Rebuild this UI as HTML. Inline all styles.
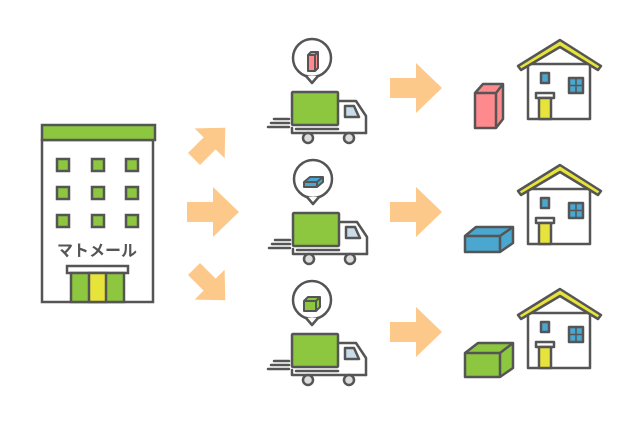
<!DOCTYPE html>
<html><head><meta charset="utf-8"><style>body{margin:0;background:#fff}svg{display:block}</style></head><body>
<svg width="640" height="428" viewBox="0 0 640 428" xmlns="http://www.w3.org/2000/svg">
<defs>
<g id="truck" stroke="#555" stroke-width="2.5" stroke-linejoin="round" stroke-linecap="round">
<circle cx="312" cy="58" r="19" fill="#fff"/>
<path d="M306 76 L312 83 L318 76" fill="#fff"/>
<path d="M338 101 H356 L366 116 V133" fill="#fff"/>
<rect x="292" y="92" width="46" height="33" fill="#8dc63f" rx="1"/>
<path d="M345 106 H354 L359 117 H345 Z" fill="#c9dce8"/>
<path d="M292 128 V133 H366" fill="none"/>
<path d="M296 129 H338" fill="none"/>
<line x1="274" y1="119" x2="289" y2="119"/><line x1="271" y1="123" x2="289" y2="123"/><line x1="268" y1="127" x2="289" y2="127"/>
<circle cx="308" cy="138" r="5" fill="#ddd"/><circle cx="349" cy="138" r="5" fill="#ddd"/>
</g>
<g id="house" stroke="#555" stroke-width="2.5" stroke-linejoin="round">
<rect x="528" y="64" width="62" height="55" fill="#fff"/>
<path d="M518 66 L560 40 L601 66 L598 70 L560 47 L521 70 Z" fill="#e6e43a"/>
<rect x="541" y="73" width="8" height="10" fill="#4aa7cf"/>
<rect x="569" y="78" width="14" height="15" fill="#4aa7cf"/>
<path d="M576 78 V93 M569 85.5 H583" stroke-width="1.5"/>
<rect x="536" y="93" width="18" height="5" fill="#fff"/>
<rect x="539" y="98" width="12" height="21" fill="#e6e43a"/>
</g>
<path id="ar" d="M0 -10 H26 V-25 L52 0 L26 25 V10 H0 Z" fill="#fdc98a"/>
</defs>
<!-- building -->
<g stroke="#555" stroke-width="2.5">
<rect x="42" y="140" width="111" height="162" fill="#fff"/>
<rect x="42" y="125" width="113" height="15" fill="#8dc63f"/>
<g fill="#8dc63f">
<rect x="57" y="159" width="12" height="12"/><rect x="92" y="159" width="12" height="12"/><rect x="126" y="159" width="12" height="12"/>
<rect x="57" y="187" width="12" height="12"/><rect x="92" y="187" width="12" height="12"/><rect x="126" y="187" width="12" height="12"/>
<rect x="57" y="215" width="12" height="12"/><rect x="92" y="215" width="12" height="12"/><rect x="126" y="215" width="12" height="12"/>
</g>
<rect x="67" y="266" width="61" height="7" fill="#fff"/>
<rect x="71" y="273" width="53" height="29" fill="#8dc63f"/>
<rect x="89" y="273" width="17" height="29" fill="#e6e43a"/>
</g>
<text x="97" y="256" text-anchor="middle" font-family="Liberation Sans, 'Noto Sans CJK JP', sans-serif" font-weight="bold" font-size="16" fill="#555">マトメール</text>
<!-- left arrows -->
<use href="#ar" transform="translate(187,212)"/>
<use href="#ar" transform="translate(194,159) rotate(-45) scale(0.85)"/>
<use href="#ar" transform="translate(194,269) rotate(45) scale(0.85)"/>
<!-- right arrows -->
<use href="#ar" transform="translate(390,88)"/>
<use href="#ar" transform="translate(390,212)"/>
<use href="#ar" transform="translate(390,332)"/>
<!-- trucks -->
<use href="#truck"/>
<use href="#truck" transform="translate(1,121)"/>
<use href="#truck" transform="translate(0,242)"/>
<!-- bubble contents -->
<g stroke="#555" stroke-width="2" stroke-linejoin="round">
<path d="M308 55 L311 52 H318 V68 L315 71 H308 Z" fill="#ff8a8e"/><path d="M308 55 H315 L318 52 M315 55 V71" fill="none"/>
<path d="M304 182 L310 177 H323 V182 L317 187 H304 Z" fill="#4aa7cf"/><path d="M304 182 H317 L323 177 M317 182 V187" fill="none"/>
<path d="M304 301 L308 297 H320 V307 L316 311 H304 Z" fill="#8dc63f"/><path d="M304 301 H316 L320 297 M316 301 V311" fill="none"/>
</g>
<!-- houses -->
<use href="#house"/>
<use href="#house" transform="translate(0,125)"/>
<use href="#house" transform="translate(0,249)"/>
<!-- boxes -->
<g stroke="#555" stroke-width="2.5" stroke-linejoin="round">
<path d="M475 93 L483 84 H503 V119 L496 128 H475 Z" fill="#ff8a8e"/><path d="M475 93 H496 L503 84 M496 93 V128" fill="none"/>
<path d="M465 236 L476 227 H513 V243 L500 252 H465 Z" fill="#4aa7cf"/><path d="M465 236 H500 L513 227 M500 236 V252" fill="none"/>
<path d="M465 353 L478 343 H513 V368 L500 377 H465 Z" fill="#8dc63f"/><path d="M465 353 H500 L513 343 M500 353 V377" fill="none"/>
</g>
</svg>
</body></html>
